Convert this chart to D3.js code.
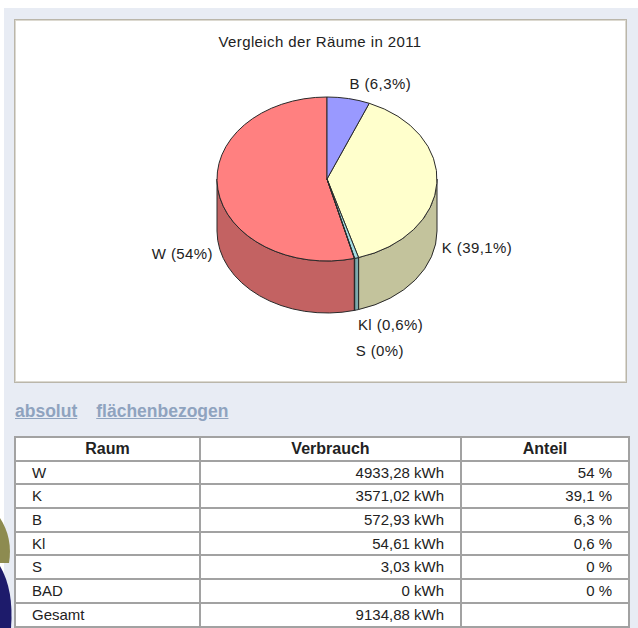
<!DOCTYPE html>
<html>
<head>
<meta charset="utf-8">
<script src="https://cdn.jsdelivr.net/npm/d3@7"></script>
<style>
  body { margin: 0; width: 638px; height: 628px; overflow: hidden; background: #fff;
         font-family: "Liberation Sans", Arial, sans-serif; position: relative; }
  #panel { position: absolute; left: 4px; top: 8px; right: 0; bottom: 0; background: #e8ecf4; }
  #chart { position: absolute; left: 0; top: 0; }
  #links { position: absolute; left: 15px; top: 401px; font-size: 17.5px; font-weight: bold; }
  #links a { color: #8fa3bf; text-decoration: underline; margin-right: 19px; }
  #tbl { position: absolute; left: 14px; top: 436px; border-collapse: collapse; background: #fff;
         font-size: 15px; color: #222; table-layout: fixed; }
  #tbl th, #tbl td { border: 2px solid #a2a2a2; padding: 0 16px; height: 21.7px; line-height: 18px; white-space: nowrap; }
  #tbl th { font-weight: bold; text-align: center; font-size: 16px; }
  #deco { position: absolute; left: 0; top: 0; }
</style>
</head>
<body>
<div id="panel"></div>
<svg id="chart" width="638" height="400"></svg>
<div id="links"></div>
<table id="tbl"></table>
<svg id="deco" width="20" height="628"></svg>
<script>
// data
const rooms = ["W", "K", "B", "Kl", "S", "BAD"];
const consumption = [4933.28, 3571.02, 572.93, 54.61, 3.03, 0];
const shares = [54, 39.1, 6.3, 0.6, 0, 0];
const total = 9134.88;
const headers = ["Raum", "Verbrauch", "Anteil"];
const linkNames = ["absolut", "flächenbezogen"];
const chartTitle = "Vergleich der Räume in 2011";

const colors = { B: "#9999ff", K: "#ffffcc", Kl: "#a3dde3", S: "#c8a0c8", W: "#ff8080" };

const de = d3.formatLocale({ decimal: ",", thousands: ".", grouping: [3], currency: ["", " €"] });
const fmtNum = de.format(".2~f");
const fmtPct = de.format(".1~f");

// ---------- pie ----------
const svg = d3.select("#chart");
const cx = 327, cy = 179, rx = 110, ry = 82, depth = 52;

svg.append("rect").attr("x", 14.5).attr("y", 19.5).attr("width", 612).attr("height", 363)
  .attr("fill", "#fff").attr("stroke", "#bab6aa");
svg.append("rect").attr("x", 15.5).attr("y", 20.5).attr("width", 610).attr("height", 361)
  .attr("fill", "none").attr("stroke", "#dcd9d0");

svg.append("text").attr("x", 320).attr("y", 47).attr("text-anchor", "middle")
  .attr("font-size", 15).attr("letter-spacing", 0.4).attr("fill", "#222").text(chartTitle);

const pieData = rooms.map((r, i) => ({ name: r, value: consumption[i], share: shares[i] }))
  .filter(d => d.value > 0);

const pie = d3.pie().value(d => d.value).sort((a, b) => d3.ascending(a.name, b.name));
const arcs = pie(pieData);

const pt = (a, dy) => [cx + rx * Math.sin(a), cy - ry * Math.cos(a) + dy];

function sidePath(d) {
  const s0 = Math.max(d.startAngle, Math.PI / 2), s1 = Math.min(d.endAngle, 3 * Math.PI / 2);
  if (s1 <= s0) return null;
  const p0 = pt(s0, 0), p1 = pt(s1, 0), q1 = pt(s1, depth), q0 = pt(s0, depth);
  return `M${p0}A${rx},${ry} 0 0 1 ${p1}L${q1}A${rx},${ry} 0 0 0 ${q0}Z`;
}
function topPath(d) {
  const p0 = pt(d.startAngle, 0), p1 = pt(d.endAngle, 0);
  const large = d.endAngle - d.startAngle > Math.PI ? 1 : 0;
  return `M${cx},${cy}L${p0}A${rx},${ry} 0 ${large} 1 ${p1}Z`;
}

svg.append("g").selectAll("path")
  .data(arcs.filter(d => sidePath(d)))
  .join("path")
  .attr("d", sidePath)
  .attr("fill", d => d3.color(colors[d.data.name]).darker(0.75))
  .attr("stroke", "#2a2a2a").attr("stroke-width", 1).attr("stroke-linejoin", "round");

svg.append("g").selectAll("path")
  .data(arcs)
  .join("path")
  .attr("d", topPath)
  .attr("fill", d => colors[d.data.name])
  .attr("stroke", "#2a2a2a").attr("stroke-width", 1).attr("stroke-linejoin", "round");

// labels
const labels = arcs.map(d => {
  const m = (d.startAngle + d.endAngle) / 2;
  const s = Math.sin(m), c = Math.cos(m);
  const x = cx + (rx + 5) * s;
  const y = c >= 0 ? cy - (ry + 15) * c : cy + depth + 12 - (ry + 3) * c;
  return { x, y, right: s >= 0, text: `${d.data.name} (${fmtPct(d.data.share)}%)` };
});
[true, false].forEach(side => {
  const grp = labels.filter(l => l.right === side).sort((a, b) => a.y - b.y);
  for (let i = 1; i < grp.length; i++) {
    if (grp[i].y - grp[i - 1].y < 25) grp[i].y = grp[i - 1].y + 26;
  }
});
svg.append("g").selectAll("text")
  .data(labels)
  .join("text")
  .attr("x", d => d.x).attr("y", d => d.y).attr("dy", "0.35em")
  .attr("text-anchor", d => d.right ? "start" : "end")
  .attr("font-size", 15).attr("letter-spacing", 0.4).attr("fill", "#222")
  .text(d => d.text);

// ---------- links ----------
d3.select("#links").selectAll("a").data(linkNames).join("a").attr("href", "#").text(d => d);

// ---------- table ----------
const tbl = d3.select("#tbl");
const cg = tbl.append("colgroup");
[185, 261, 168].forEach(w => cg.append("col").style("width", w + "px"));
tbl.append("tr").selectAll("th").data(headers).join("th").text(d => d);
const rows = rooms.map((r, i) => [r, fmtNum(consumption[i]) + " kWh", fmtPct(shares[i]) + " %"]);
rows.push(["Gesamt", fmtNum(total) + " kWh", ""]);
tbl.selectAll("tr.row").data(rows).join("tr").attr("class", "row")
  .selectAll("td").data(d => d).join("td")
  .style("text-align", (d, i) => i === 0 ? "left" : "right")
  .text(d => d);

// ---------- bottom-left decoration ----------
const deco = d3.select("#deco");
deco.append("path").attr("d", "M0,518 Q13,538 9,563 L0,563 Z").attr("fill", "#8d8b50");
deco.append("path").attr("d", "M0,566 Q14,590 11,628 L0,628 Z").attr("fill", "#1d1b6b");
</script>
</body>
</html>
